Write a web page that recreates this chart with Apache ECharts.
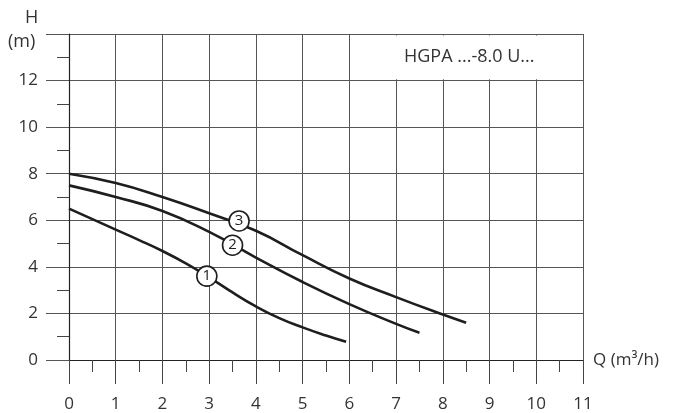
<!DOCTYPE html>
<html><head><meta charset="utf-8">
<script src="https://cdn.jsdelivr.net/npm/echarts@6/dist/echarts.min.js"></script>
<style>html,body{margin:0;padding:0;background:#fff}#c{width:673px;height:413px}</style>
</head><body><div id="c"></div>
<script>
const curve1 = [[0,6.5],[0.5,6.05],[1,5.6],[1.5,5.15],[2,4.68],[2.5,4.15],[3,3.55],[3.5,2.9],[4,2.3],[4.5,1.8],[5,1.4],[5.5,1.05],[5.93,0.78]];
const curve2 = [[0,7.5],[1,7.0],[2,6.4],[3,5.5],[4,4.4],[5,3.35],[6,2.4],[7,1.55],[7.5,1.17]];
const curve3 = [[0,8],[1,7.6],[2,7.0],[3,6.3],[4,5.55],[5,4.5],[6,3.5],[7,2.7],[8,1.95],[8.5,1.6]];
const markers = [[2.95,3.6,'1'],[3.5,4.93,'2'],[3.64,5.97,'3']];
const modelLabel = 'HGPA ...-8.0 U...';
const xName = 'Q (m³/h)';
const yNameTop = 'H';
const yNameBottom = '(m)';

const font = 'Open Sans';
const txt = '#333';
const lineStyle = {color:'#1e1e1e', width:2.6};
const chart = echarts.init(document.getElementById('c'));
chart.setOption({
  animation:false,
  grid:{left:69, right:90, top:34, bottom:52, show:false},
  xAxis:{type:'value', min:0, max:11, interval:1,
    axisLine:{show:true, onZero:false, lineStyle:{color:'#222', width:1.2}},
    axisTick:{show:true, length:24, lineStyle:{color:'#444'}},
    minorTick:{show:true, splitNumber:2, length:12, lineStyle:{color:'#444'}},
    splitLine:{show:true, lineStyle:{color:'#555', width:1}},
    axisLabel:{color:txt, fontSize:17, fontFamily:font, margin:36},
    name:xName, nameLocation:'end', nameGap:10,
    nameTextStyle:{color:txt, fontSize:17, fontFamily:font, verticalAlign:'middle', padding:[0,0,12,0]}
  },
  yAxis:{type:'value', min:0, max:14, interval:2,
    axisLine:{show:true, onZero:false, lineStyle:{color:'#222', width:1.2}},
    axisTick:{show:true, length:23, lineStyle:{color:'#555'}},
    minorTick:{show:true, splitNumber:2, length:12, lineStyle:{color:'#444'}},
    splitLine:{show:true, lineStyle:{color:'#555', width:1}},
    axisLabel:{color:txt, fontSize:17, fontFamily:font, margin:31, formatter:v=> v===14?'':String(v)}
  },
  graphic:[
    {type:'text', left:25, top:9, style:{text:yNameTop, fill:txt, font:'18px "Open Sans"'}},
    {type:'text', left:8, top:33, style:{text:yNameBottom, fill:txt, font:'18px "Open Sans"'}}
  ],
  series:[
    {type:'line', data:curve1, smooth:0.5, symbol:'none', lineStyle:lineStyle, z:3,
      markArea:{silent:true, itemStyle:{color:'#fff'}, data:[[{coord:[6.02,12.06]},{coord:[10.98,13.94]}]],
        label:{show:false}}},
    {type:'line', data:curve2, smooth:0.5, symbol:'none', lineStyle:lineStyle, z:3},
    {type:'line', data:curve3, smooth:0.5, symbol:'none', lineStyle:lineStyle, z:3},
    {type:'scatter', data:markers, symbol:'circle', symbolSize:20, z:5,
      itemStyle:{color:'#fff', borderColor:'#1e1e1e', borderWidth:1.6, opacity:1},
      label:{show:true, position:'inside', formatter:p=>p.value[2], color:'#222', fontSize:15, fontFamily:font}},
  ],
  title:{text:modelLabel, left:399, top:43, textStyle:{color:txt, fontSize:18, fontWeight:'normal', fontFamily:font}}
});
</script></body></html>
